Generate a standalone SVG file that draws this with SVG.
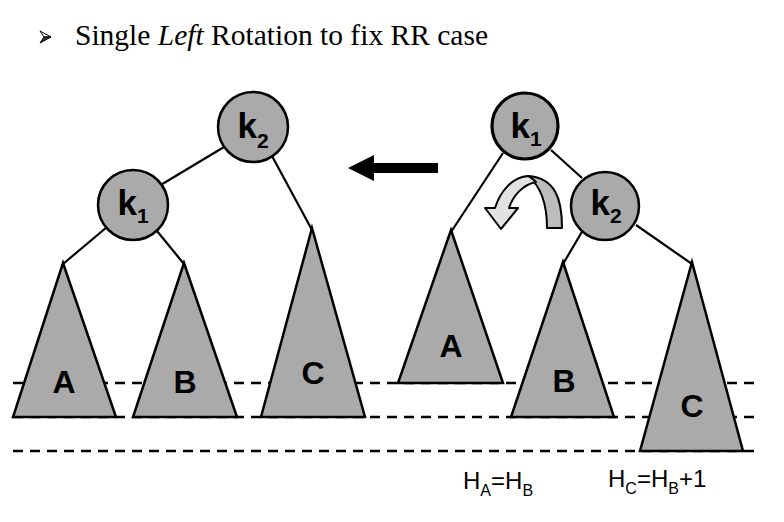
<svg xmlns="http://www.w3.org/2000/svg" width="784" height="522" viewBox="0 0 784 522">
<style>
.title{font-family:"Liberation Serif","Times New Roman",serif;font-size:29.5px;fill:#000}
.node circle{fill:#aaaaaa;stroke:#000;stroke-width:2.5}
.tri polygon{fill:#aaaaaa;stroke:#000;stroke-width:2.5;stroke-linejoin:miter}
.klab{font-family:"Liberation Sans",Arial,sans-serif;font-weight:bold;font-size:35px;text-anchor:middle;fill:#000}
.ksub{font-size:21px}
.tlab{font-family:"Liberation Sans",Arial,sans-serif;font-weight:bold;font-size:32px;text-anchor:middle;fill:#000}
.dash{stroke:#000;stroke-width:2.5;stroke-dasharray:10 7;fill:none}
.edge{stroke:#000;stroke-width:2.2;fill:none}
.hlab{font-family:"Liberation Sans",Arial,sans-serif;font-size:24px;fill:#000}
.hsub{font-size:16px}
</style>
<rect width="784" height="522" fill="#fff"/>
<g id="title">
<polygon points="40,31 51,37 44,37" fill="#fff" stroke="#000" stroke-width="1"/>
<polygon points="44,37 51,37 40,43" fill="#333" stroke="#000" stroke-width="1"/>
<text class="title" x="75" y="45">Single <tspan font-style="italic">Left</tspan> Rotation to fix RR case</text>
</g>
<g id="levels">
<line class="dash" x1="13" y1="383" x2="760" y2="383"/>
<line class="dash" x1="13" y1="417" x2="760" y2="417"/>
<line class="dash" x1="13" y1="451" x2="760" y2="451"/>
</g>
<g id="connectors">
<line class="edge" x1="224" y1="147" x2="159" y2="186"/>
<line class="edge" x1="272" y1="156" x2="312" y2="230"/>
<line class="edge" x1="107" y1="227" x2="63" y2="264"/>
<line class="edge" x1="157" y1="231" x2="184" y2="264"/>
<line class="edge" x1="503" y1="153" x2="451" y2="232"/>
<line class="edge" x1="551" y1="150" x2="582" y2="178"/>
<line class="edge" x1="583" y1="230" x2="563" y2="264"/>
<line class="edge" x1="636" y1="225" x2="692" y2="264"/>
</g>
<g id="bigArrow">
<polygon points="348,168 374,155 374,163 438,163 438,173 374,173 374,181" fill="#000"/>
</g>
<g id="rotArrow" stroke="#000" stroke-width="2" stroke-linejoin="round">
<path d="M547,228 L562,228 C562,200 556,178 528,176 C538,184 547,200 547,228 Z" fill="#bdbdbd"/>
<path d="M528,176 C512,177 500,192 495,208 L485,208 L501,229 L518,208 L509,208 C513,196 522,185 536,182 C533,179 531,177 528,176 Z" fill="#e2e2e2"/>
</g>
<g id="left-k2" class="node"><circle cx="253" cy="127" r="35"/><text class="klab" x="253" y="138">k<tspan class="ksub" dy="10">2</tspan></text></g>
<g id="left-k1" class="node"><circle cx="133" cy="205" r="35"/><text class="klab" x="133" y="215">k<tspan class="ksub" dy="8">1</tspan></text></g>
<g id="right-k1" class="node"><circle cx="525" cy="126" r="33" style="stroke-width:3.2"/><text class="klab" x="526" y="138">k<tspan class="ksub" dy="8">1</tspan></text></g>
<g id="right-k2" class="node"><circle cx="605" cy="206" r="34"/><text class="klab" x="606" y="215">k<tspan class="ksub" dy="8">2</tspan></text></g>
<g id="left-A" class="tri"><polygon points="63,263 116,417 13,417"/><text class="tlab" x="64" y="393">A</text></g>
<g id="left-B" class="tri"><polygon points="184,263 237,417 133,417"/><text class="tlab" x="185" y="393">B</text></g>
<g id="left-C" class="tri"><polygon points="312,228 365,417 261,417"/><text class="tlab" x="313" y="384">C</text></g>
<g id="right-A" class="tri"><polygon points="451,230 503,383 398,383"/><text class="tlab" x="451" y="357">A</text></g>
<g id="right-B" class="tri"><polygon points="563,262 614,417 511,417"/><text class="tlab" x="564" y="392">B</text></g>
<g id="right-C" class="tri"><polygon points="692,262 743,451 640,451"/><text class="tlab" x="692" y="417">C</text></g>
<g id="notes">
<text class="hlab" x="463" y="489">H<tspan class="hsub" dy="7">A</tspan><tspan dy="-7">=H</tspan><tspan class="hsub" dy="7">B</tspan></text>
<text class="hlab" x="608" y="487">H<tspan class="hsub" dy="7">C</tspan><tspan dy="-7">=H</tspan><tspan class="hsub" dy="7">B</tspan><tspan dy="-7">+1</tspan></text>
</g>
</svg>
